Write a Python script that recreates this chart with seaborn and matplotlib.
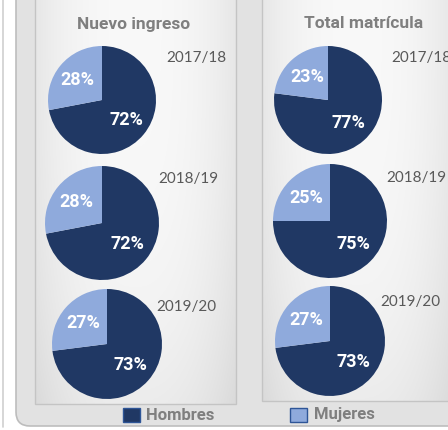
import numpy as np
import matplotlib
matplotlib.use("Agg")
import matplotlib.pyplot as plt
from matplotlib.patches import FancyBboxPatch, Rectangle
import seaborn as sns

# ---- data ----
years = ["2017/18", "2018/19", "2019/20"]
groups = ["Nuevo ingreso", "Total matrícula"]
series = ["Hombres", "Mujeres"]
nuevo_hombres = [72, 72, 73]
nuevo_mujeres = [28, 28, 27]
total_hombres = [77, 75, 73]
total_mujeres = [23, 25, 27]

sns.set_theme(style="white")
plt.rcParams["font.family"] = ["Lato", "DejaVu Sans"]
BOLD = ["Roboto", "DejaVu Sans"]
colors = sns.color_palette(["#203864", "#8FAADC"])

W, H = 448, 430
fig = plt.figure(figsize=(W / 100, H / 100), dpi=100)
fig.patch.set_facecolor("white")

bg = fig.add_axes([0, 0, 1, 1])
bg.set_xlim(0, W)
bg.set_ylim(H, 0)
bg.axis("off")

# thin line at far left
bg.plot([2.5, 2.5], [0, 427], color="#cfcfcf", lw=1.2)

# outer frame
outer = FancyBboxPatch((16, -30), 470, 456, boxstyle="round,pad=0,rounding_size=14",
                       fc="#e2e2e2", ec="#bdbdbd", lw=1.2)
bg.add_patch(outer)


def gradient_panel(x0, x1, y0, y1):
    nx, ny = 200, 200
    xs = np.linspace(0, 1, nx)
    ys = np.linspace(0, 1, ny)
    X, Y = np.meshgrid(xs, ys)
    val = 0.975 - 0.07 * (np.abs(X - 0.5) * 2) ** 2.5 - 0.05 * (Y) ** 3
    val = np.clip(val, 0, 1)
    img = np.dstack([val, val, val])
    bg.imshow(img, extent=(x0, x1, y1, y0), origin="upper", aspect="auto", zorder=1)
    bg.add_patch(Rectangle((x0, y0), x1 - x0, y1 - y0, fill=False, ec="#c4c4c4", lw=1.0, zorder=2))


gradient_panel(35, 236, -2, 404)
gradient_panel(262, 452, -2, 401)
bg.set_xlim(0, W)
bg.set_ylim(H, 0)

# titles
bg.text(134, 24, groups[0], ha="center", va="center", fontsize=12.5, fontweight="bold",
        color="#7f7f7f", zorder=5, family=BOLD)
bg.text(364, 24, groups[1], ha="center", va="center", fontsize=12.5, fontweight="bold",
        color="#7f7f7f", zorder=5, family=BOLD)

# pies: (cx, cy, r) in pixels
pies_left = [(102, 100, 54), (102, 223, 57), (107, 344, 55)]
pies_right = [(328, 100, 54), (330, 221, 57), (330, 341, 55)]
year_pos_left = [(166, 58), (158, 179), (156, 307)]
year_pos_right = [(391, 58), (386, 178), (380, 302)]


def draw_pie(cx, cy, r, vals):
    ax = fig.add_axes([(cx - r) / W, 1 - (cy + r) / H, 2 * r / W, 2 * r / H])
    ax.pie(vals, colors=colors, startangle=90, counterclock=False,
           autopct=lambda p: f"{p:.0f}%", pctdistance=0.58,
           wedgeprops=dict(linewidth=0),
           textprops=dict(color="white", fontweight="bold", fontsize=13, family=BOLD))
    ax.set_xlim(-1, 1)
    ax.set_ylim(-1, 1)
    ax.axis("off")


for i, y in enumerate(years):
    cx, cy, r = pies_left[i]
    draw_pie(cx, cy, r, [nuevo_hombres[i], nuevo_mujeres[i]])
    cx, cy, r = pies_right[i]
    draw_pie(cx, cy, r, [total_hombres[i], total_mujeres[i]])
    bg.text(*year_pos_left[i], y, ha="left", va="center", fontsize=11, color="#595959", zorder=5)
    bg.text(*year_pos_right[i], y, ha="left", va="center", fontsize=11, color="#595959", zorder=5,
            clip_on=False)

# legend
bg.add_patch(Rectangle((123, 408), 17, 14, fc=colors[0], ec="#2e5597", lw=1.0, zorder=5))
bg.text(146, 415, series[0], ha="left", va="center", fontsize=12, fontweight="bold",
        color="#7f7f7f", zorder=5, family=BOLD)
bg.add_patch(Rectangle((290, 408), 17, 14, fc=colors[1], ec="#2e5597", lw=1.0, zorder=5))
bg.text(314, 415, series[1], ha="left", va="center", fontsize=12, fontweight="bold",
        color="#7f7f7f", zorder=5, family=BOLD)

fig.savefig("out.png", dpi=100, facecolor=fig.get_facecolor())
